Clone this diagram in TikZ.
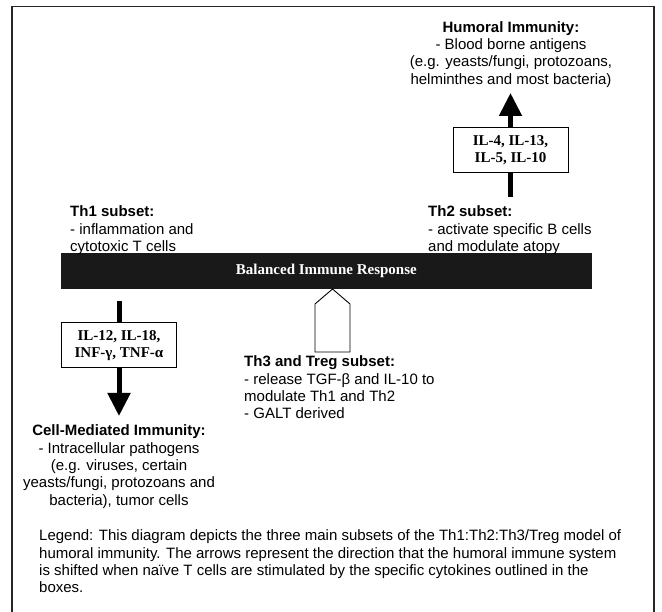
\documentclass[tikz,border=0pt]{standalone}
\usepackage{fontspec}
\setmainfont{Liberation Sans}
\newfontfamily\timesfont{Liberation Serif}
\usetikzlibrary{arrows.meta}
\begin{document}
\begin{tikzpicture}[x=1pt,y=1pt,
  txt/.style={inner sep=0pt, font=\fontsize{15}{17.4}\selectfont},
  serifbold/.style={font=\timesfont\bfseries\fontsize{15}{17}\selectfont},
  cytobox/.style={draw, line width=1pt, fill=white, minimum width=115pt, minimum height=45pt, inner sep=0pt, align=center, serifbold},
  shaftarrow/.style={line width=5pt, -{Triangle[width=22pt,length=23pt]}},
  shaftline/.style={line width=5pt},
  hollow/.style={draw, line width=0.9pt, fill=white}]
\useasboundingbox (0,0) rectangle (662,-612);
% outer frame (open at bottom)
\draw[line width=1.3pt, black!85] (12,-612) -- (12,-6.5) -- (654,-6.5) -- (654,-612);

% central bar
\node[fill=black!90, minimum width=531pt, minimum height=36pt, inner sep=0pt, text=white, serifbold] (bar) at (326.4,-271) {Balanced Immune Response};

% Th1 branch (down)
\coordinate (th1start) at (119,-301);
\node[cytobox] (box1) at (119,-345.5) {IL-12, IL-18,\\INF-γ, TNF-α};
\coordinate (th1tip) at (119,-416);
\draw[shaftline] (th1start) -- (box1.north);
\draw[shaftarrow] (box1.south) -- (th1tip);

% Th2 branch (up)
\coordinate (th2start) at (510.5,-197);
\node[cytobox] (box2) at (510.5,-150.5) {IL-4, IL-13,\\IL-5, IL-10};
\coordinate (th2tip) at (510.5,-93);
\draw[shaftline] (th2start) -- (box2.south);
\draw[shaftarrow] (box2.north) -- (th2tip);

% Th3 hollow arrow
\coordinate (th3tip) at (332.5,-289);
\draw[hollow] (315,-352) -- (315,-304) -- (th3tip) -- (350,-304) -- (350,-352) -- cycle;

% texts
\node[txt, anchor=north west, align=left] (th1) at (70,-205.6)
  {\textbf{Th1 subset:}\\- inflammation and\\cytotoxic T cells};
\node[txt, anchor=north west, align=left] (th2) at (428,-205.6)
  {\textbf{Th2 subset:}\\- activate specific B cells\\and modulate atopy};
\node[txt, anchor=north, align=center] (humoral) at (511,-21)
  {\textbf{Humoral Immunity:}\\- Blood borne antigens\\(e.g. yeasts/fungi, protozoans,\\helminthes and most bacteria)};
\node[txt, anchor=north, align=center] (cellmed) at (119,-424.6)
  {\textbf{Cell-Mediated Immunity:}\\- Intracellular pathogens\\(e.g. viruses, certain\\yeasts/fungi, protozoans and\\bacteria), tumor cells};
\node[txt, anchor=north west, align=left] (th3) at (244,-355.6)
  {\textbf{Th3 and Treg subset:}\\- release TGF-β and IL-10 to\\modulate Th1 and Th2\\- GALT derived};
\node[txt, anchor=north west, align=left] (legend) at (39,-529.6)
  {Legend: This diagram depicts the three main subsets of the Th1:Th2:Th3/Treg model of\\humoral immunity. The arrows represent the direction that the humoral immune system\\is shifted when naïve T cells are stimulated by the specific cytokines outlined in the\\boxes.};
\end{tikzpicture}
\end{document}
